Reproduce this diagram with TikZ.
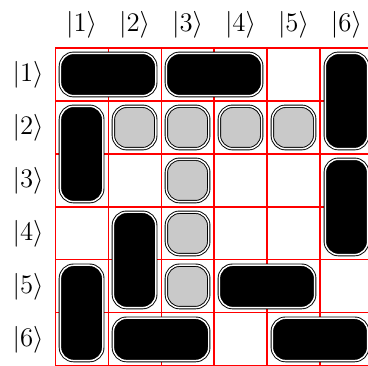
\documentclass[tikz,border=0pt]{standalone}
\usepackage{amsmath}
\usepackage{amssymb}
\usepackage{tikz}

\begin{document}
\begin{tikzpicture}
[xscale=1,yscale=1]

    \tikzstyle{tile}=[draw,double,double distance=0.8pt,line width=0.5pt,
                      rounded corners=0.25cm,inner sep=0pt]
    \tikzstyle{hdom}=[tile,fill=black,minimum width=1.8cm,minimum height=0.8cm]
    \tikzstyle{vdom}=[tile,fill=black,minimum width=0.8cm,minimum height=1.8cm]
    \tikzstyle{mono}=[tile,fill=black!21,minimum size=0.8cm]
    \tikzstyle{ket}=[inner sep=0pt,font=\Large]

    % the page is the frame, the last column is cut off
    \clip (-1.04,0.906) rectangle (5.906,-5.995);

    % the red board
    \draw[color=red,line width=0.6pt] (0,0) grid (6,-6);

    % labels over the columns
    \node[ket] (c1) at (0.5,0.434) {$|1\rangle$};
    \node[ket] (c2) at (1.5,0.434) {$|2\rangle$};
    \node[ket] (c3) at (2.5,0.434) {$|3\rangle$};
    \node[ket] (c4) at (3.5,0.434) {$|4\rangle$};
    \node[ket] (c5) at (4.5,0.434) {$|5\rangle$};
    \node[ket] (c6) at (5.5,0.434) {$|6\rangle$};

    % labels left of the rows
    \node[ket] (r1) at (-0.51,-0.5) {$|1\rangle$};
    \node[ket] (r2) at (-0.51,-1.5) {$|2\rangle$};
    \node[ket] (r3) at (-0.51,-2.5) {$|3\rangle$};
    \node[ket] (r4) at (-0.51,-3.5) {$|4\rangle$};
    \node[ket] (r5) at (-0.51,-4.5) {$|5\rangle$};
    \node[ket] (r6) at (-0.51,-5.5) {$|6\rangle$};

    % the dominoes
    \node[hdom] (h11) at (1,-0.5) {};
    \node[hdom] (h13) at (3,-0.5) {};
    \node[vdom] (v16) at (5.5,-1) {};
    \node[vdom] (v21) at (0.5,-2) {};
    \node[vdom] (v36) at (5.5,-3) {};
    \node[vdom] (v42) at (1.5,-4) {};
    \node[hdom] (h54) at (4,-4.5) {};
    \node[vdom] (v51) at (0.5,-5) {};
    \node[hdom] (h62) at (2,-5.5) {};
    \node[hdom] (h65) at (5,-5.5) {};

    % the single grey squares
    \node[mono] (s22) at (1.5,-1.5) {};
    \node[mono] (s23) at (2.5,-1.5) {};
    \node[mono] (s24) at (3.5,-1.5) {};
    \node[mono] (s25) at (4.5,-1.5) {};
    \node[mono] (s33) at (2.5,-2.5) {};
    \node[mono] (s43) at (2.5,-3.5) {};
    \node[mono] (s53) at (2.5,-4.5) {};

\end{tikzpicture}
\end{document}
